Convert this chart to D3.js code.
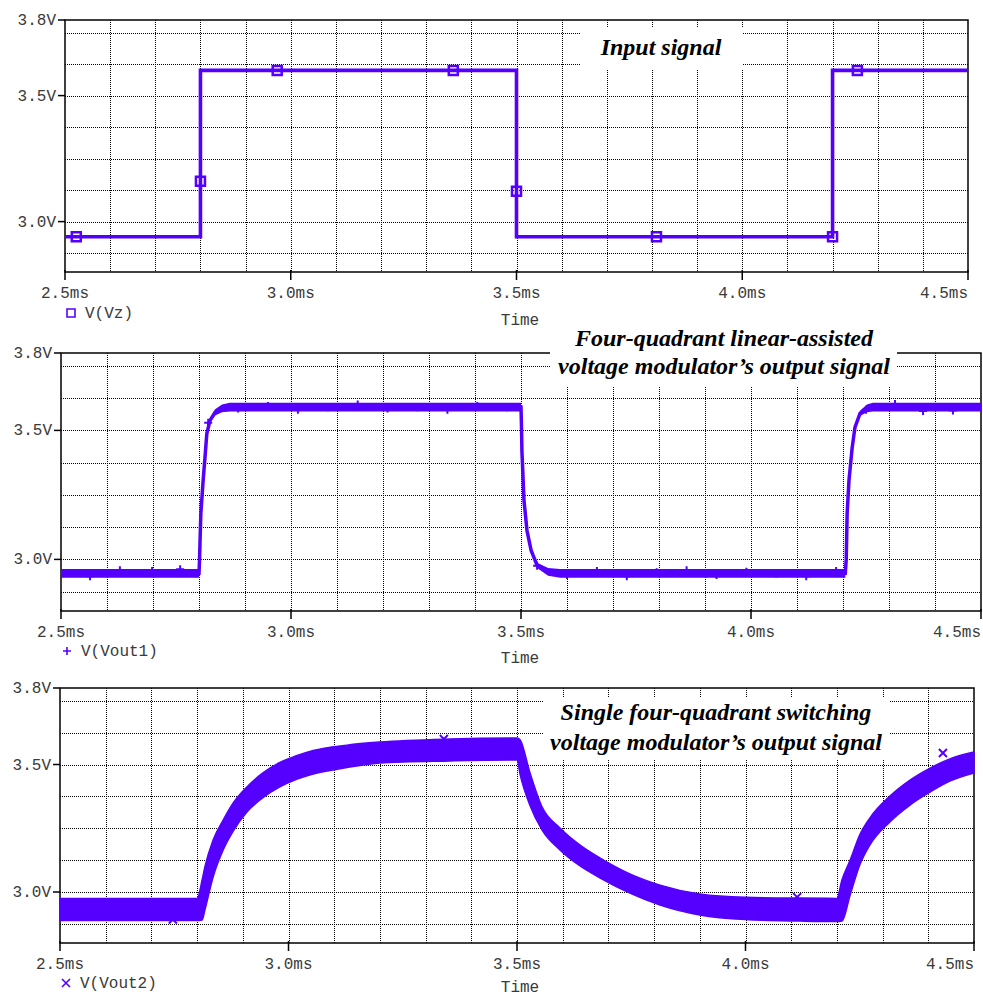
<!DOCTYPE html>
<html lang="en">
<head>
<meta charset="utf-8">
<title>Modulator output traces</title>
<script src="https://cdn.jsdelivr.net/npm/d3@7"></script>
<style>
  body { margin: 0; background: #fff; }
  text.lbl { font-family: "Liberation Mono", "DejaVu Sans Mono", monospace; font-size: 16px; fill: #3a3a3a; }
  text.title { font-family: "Liberation Serif", serif; font-size: 24px; font-weight: bold; font-style: italic; fill: #000; }
</style>
</head>
<body>
<div id="chart"></div>
<script>
// axis values
const xTicks = [2.5, 3.0, 3.5, 4.0, 4.5];
const xTickLabels = ["2.5ms", "3.0ms", "3.5ms", "4.0ms", "4.5ms"];
const xGrid = [2.6, 2.7, 2.8, 2.9, 3.0, 3.1, 3.2, 3.3, 3.4, 3.5, 3.6, 3.7, 3.8, 3.9, 4.0, 4.1, 4.2, 4.3, 4.4];
const yTicks = [3.0, 3.5, 3.8];
const yTickLabels = ["3.0V", "3.5V", "3.8V"];
const yGrid = [2.875, 3.0, 3.125, 3.25, 3.375, 3.5, 3.625, 3.75];

// V(Vz) input signal
const vzTime  = [2.5, 2.8, 2.8, 3.5, 3.5, 4.2, 4.2, 4.5];
const vzValue = [2.94, 2.94, 3.6, 3.6, 2.94, 2.94, 3.6, 3.6];
const vzMarkTime  = [2.525, 2.8, 2.97, 3.36, 3.5, 3.81, 4.2, 4.255];
const vzMarkValue = [2.94, 3.16, 3.6, 3.6, 3.12, 2.94, 2.94, 3.6];

// V(Vout1) linear-assisted output (centre + ripple half-width)
const vout1Time   = [2.5, 2.8, 2.801, 2.802, 2.804, 2.809, 2.813, 2.817, 2.824, 2.835, 2.85, 2.867, 2.9, 3.5, 3.501, 3.502, 3.5065, 3.513, 3.522, 3.535, 3.559, 3.585, 4.205, 4.207, 4.209, 4.213, 4.22, 4.226, 4.237, 4.252, 4.265, 4.5];
const vout1Value  = [2.946, 2.946, 2.99, 3.054, 3.178, 3.306, 3.395, 3.488, 3.539, 3.57, 3.585, 3.59, 3.59, 3.59, 3.52, 3.42, 3.229, 3.112, 3.035, 2.977, 2.952, 2.946, 2.946, 3.0, 3.178, 3.306, 3.434, 3.512, 3.566, 3.585, 3.59, 3.59];
const vout1Ripple = [0.017, 0.017, 0.005, 0.005, 0.005, 0.005, 0.005, 0.006, 0.008, 0.012, 0.015, 0.017, 0.017, 0.017, 0.006, 0.005, 0.005, 0.005, 0.007, 0.01, 0.015, 0.017, 0.017, 0.005, 0.005, 0.005, 0.005, 0.007, 0.01, 0.015, 0.017, 0.017];
const vout1MarkTime  = [2.563, 2.628, 2.698, 2.759, 2.82, 2.885, 2.95, 3.015, 3.08, 3.145, 3.21, 3.275, 3.34, 3.405, 3.47, 3.535, 3.6, 3.665, 3.73, 3.795, 3.86, 3.925, 3.99, 4.055, 4.12, 4.185, 4.25, 4.313, 4.374, 4.439];
const vout1MarkValue = [2.935, 2.958, 2.955, 2.962, 3.53, 3.585, 3.595, 3.58, 3.59, 3.6, 3.585, 3.59, 3.58, 3.595, 3.59, 2.975, 2.94, 2.955, 2.935, 2.95, 2.958, 2.94, 2.952, 2.945, 2.935, 2.955, 3.58, 3.602, 3.575, 3.577];

// V(Vout2) switching output (ripple envelope)
const vout2Time  = [2.5, 2.8, 2.811, 2.817, 2.835, 2.857, 2.879, 2.909, 2.944, 2.981, 3.019, 3.054, 3.128, 3.2, 3.353, 3.5, 3.507, 3.528, 3.555, 3.594, 3.638, 3.682, 3.747, 3.813, 3.9, 4.0, 4.12, 4.2, 4.211, 4.229, 4.25, 4.272, 4.316, 4.36, 4.404, 4.447, 4.5];
const vout2Upper = [2.975, 2.975, 3.047, 3.098, 3.204, 3.282, 3.349, 3.412, 3.467, 3.508, 3.535, 3.555, 3.576, 3.588, 3.6, 3.604, 3.596, 3.47, 3.333, 3.251, 3.184, 3.133, 3.071, 3.027, 2.992, 2.979, 2.976, 2.975, 3.047, 3.125, 3.224, 3.29, 3.376, 3.439, 3.486, 3.522, 3.549];
const vout2Lower = [2.888, 2.888, 2.89, 2.929, 3.059, 3.165, 3.239, 3.314, 3.37, 3.412, 3.443, 3.463, 3.488, 3.506, 3.514, 3.518, 3.459, 3.341, 3.243, 3.165, 3.102, 3.055, 2.996, 2.949, 2.91, 2.892, 2.886, 2.884, 2.886, 2.988, 3.106, 3.184, 3.275, 3.341, 3.392, 3.435, 3.467];
const vout2MarkTime  = [2.747, 3.34, 4.113, 4.432];
const vout2MarkValue = [2.892, 3.6, 2.98, 3.545];

const traceColor = "#5500ff";

const svg = d3.select("#chart").append("svg")
  .attr("width", 983)
  .attr("height", 996);

const panels = [
  {left: 65, right: 968, top: 20, bottom: 272, tickBase: 298, legendBase: 318, timeBase: 325,
   legend: "V(Vz)", marker: "square",
   box: [580, 28, 163, 42], titleX: 661, titleLines: ["Input signal"], titleBase: [55]},
  {left: 61, right: 981, top: 353, bottom: 611, tickBase: 637, legendBase: 656, timeBase: 663,
   legend: "V(Vout1)", marker: "plus",
   box: [550, 325, 347, 62], titleX: 724, titleLines: ["Four-quadrant linear-assisted", "voltage modulator\u2019s output signal"], titleBase: [346, 374]},
  {left: 60, right: 974, top: 688, bottom: 943, tickBase: 969, legendBase: 988, timeBase: 992,
   legend: "V(Vout2)", marker: "cross",
   box: [543, 697, 347, 63], titleX: 716, titleLines: ["Single four-quadrant switching", "voltage modulator\u2019s output signal"], titleBase: [720, 750]}
];

function markerPath(kind, x, y, s = 4) {
  if (kind === "plus") return `M${x - s},${y}h${2 * s}M${x},${y - s}v${2 * s}`;
  if (kind === "cross") return `M${x - s},${y - s}l${2 * s},${2 * s}M${x + s},${y - s}l${-2 * s},${2 * s}`;
  return `M${x - s},${y - s}h${2 * s}v${2 * s}h${-2 * s}z`;
}

function drawFrame(p) {
  const x = d3.scaleLinear().domain([2.5, 4.5]).range([p.left, p.right]);
  const y = d3.scaleLinear().domain([2.8, 3.8]).range([p.bottom, p.top]);
  const g = svg.append("g");

  // dotted grid
  g.selectAll("line.vg").data(xGrid).enter().append("line")
    .attr("x1", d => Math.round(x(d)) + 0.5).attr("x2", d => Math.round(x(d)) + 0.5)
    .attr("y1", p.top).attr("y2", p.bottom)
    .attr("stroke", "#000").attr("stroke-dasharray", "1,1").attr("shape-rendering", "crispEdges");
  g.selectAll("line.hg").data(yGrid).enter().append("line")
    .attr("y1", d => Math.round(y(d)) + 0.5).attr("y2", d => Math.round(y(d)) + 0.5)
    .attr("x1", p.left).attr("x2", p.right)
    .attr("stroke", "#000").attr("stroke-dasharray", "1,1").attr("shape-rendering", "crispEdges");

  // frame
  g.append("rect")
    .attr("x", p.left).attr("y", p.top)
    .attr("width", p.right - p.left).attr("height", p.bottom - p.top)
    .attr("fill", "none").attr("stroke", "#000").attr("stroke-width", 1.5);

  // x ticks + labels
  g.selectAll("line.xt").data(xTicks).enter().append("line")
    .attr("x1", d => x(d)).attr("x2", d => x(d))
    .attr("y1", p.bottom - 2).attr("y2", p.bottom + 8)
    .attr("stroke", "#000").attr("stroke-width", 1.5);
  g.selectAll("text.xl").data(xTicks).enter().append("text")
    .attr("class", "lbl")
    .attr("x", (d, i) => i === xTicks.length - 1 ? p.right : x(d))
    .attr("y", p.tickBase)
    .attr("text-anchor", (d, i) => i === xTicks.length - 1 ? "end" : "middle")
    .text((d, i) => xTickLabels[i]);

  // y ticks + labels
  g.selectAll("line.yt").data(yTicks).enter().append("line")
    .attr("x1", p.left - 7).attr("x2", p.left)
    .attr("y1", d => y(d)).attr("y2", d => y(d))
    .attr("stroke", "#000").attr("stroke-width", 1.5);
  g.selectAll("text.yl").data(yTicks).enter().append("text")
    .attr("class", "lbl")
    .attr("x", p.left - 9)
    .attr("y", d => y(d) + 5)
    .attr("text-anchor", "end")
    .text((d, i) => yTickLabels[i]);

  // legend and axis title
  g.append("path")
    .attr("d", markerPath(p.marker, p.left + 6, p.legendBase - 5))
    .attr("fill", "none").attr("stroke", traceColor).attr("stroke-width", 1.6);
  g.append("text").attr("class", "lbl")
    .attr("x", p.left + 20).attr("y", p.legendBase).text(p.legend);
  g.append("text").attr("class", "lbl")
    .attr("x", 520).attr("y", p.timeBase).attr("text-anchor", "middle").text("Time");

  return {g, x, y};
}

function drawTitle(p) {
  const g = svg.append("g");
  g.append("rect")
    .attr("x", p.box[0]).attr("y", p.box[1])
    .attr("width", p.box[2]).attr("height", p.box[3])
    .attr("fill", "#fff");
  p.titleLines.forEach((line, i) => {
    g.append("text").attr("class", "title")
      .attr("x", p.titleX).attr("y", p.titleBase[i])
      .attr("text-anchor", "middle").text(line);
  });
}

// ---- panel 1: V(Vz)
{
  const p = panels[0];
  const {g, x, y} = drawFrame(p);
  const line = d3.line().x((d, i) => x(vzTime[i])).y((d, i) => y(vzValue[i]));
  g.append("path").attr("d", line(vzTime))
    .attr("fill", "none").attr("stroke", traceColor).attr("stroke-width", 3.6);
  g.selectAll("path.mk").data(vzMarkTime).enter().append("path")
    .attr("d", (d, i) => markerPath("square", x(d), y(vzMarkValue[i]), 4.5))
    .attr("fill", "none").attr("stroke", traceColor).attr("stroke-width", 2.5);
  drawTitle(p);
}

// ---- panel 2: V(Vout1)
{
  const p = panels[1];
  const {g, x, y} = drawFrame(p);
  const band = d3.area()
    .x((d, i) => x(vout1Time[i]))
    .y0((d, i) => y(vout1Value[i] - vout1Ripple[i]))
    .y1((d, i) => y(vout1Value[i] + vout1Ripple[i]));
  g.append("path").attr("d", band(vout1Time)).attr("fill", traceColor);
  const line = d3.line().x((d, i) => x(vout1Time[i])).y((d, i) => y(vout1Value[i]));
  g.append("path").attr("d", line(vout1Time))
    .attr("fill", "none").attr("stroke", traceColor).attr("stroke-width", 3.5);
  g.selectAll("path.mk").data(vout1MarkTime).enter().append("path")
    .attr("d", (d, i) => markerPath("plus", x(d), y(vout1MarkValue[i])))
    .attr("fill", "none").attr("stroke", traceColor).attr("stroke-width", 2);
  drawTitle(p);
}

// ---- panel 3: V(Vout2)
{
  const p = panels[2];
  const {g, x, y} = drawFrame(p);
  const band = d3.area()
    .x((d, i) => x(vout2Time[i]))
    .y0((d, i) => y(vout2Lower[i]))
    .y1((d, i) => y(vout2Upper[i]))
    .curve(d3.curveMonotoneX);
  g.append("path").attr("d", band(vout2Time))
    .attr("fill", traceColor).attr("stroke", traceColor).attr("stroke-width", 1.5);
  g.selectAll("path.mk").data(vout2MarkTime).enter().append("path")
    .attr("d", (d, i) => markerPath("cross", x(d), y(vout2MarkValue[i])))
    .attr("fill", "none").attr("stroke", traceColor).attr("stroke-width", 2);
  drawTitle(p);
}
</script>
</body>
</html>
